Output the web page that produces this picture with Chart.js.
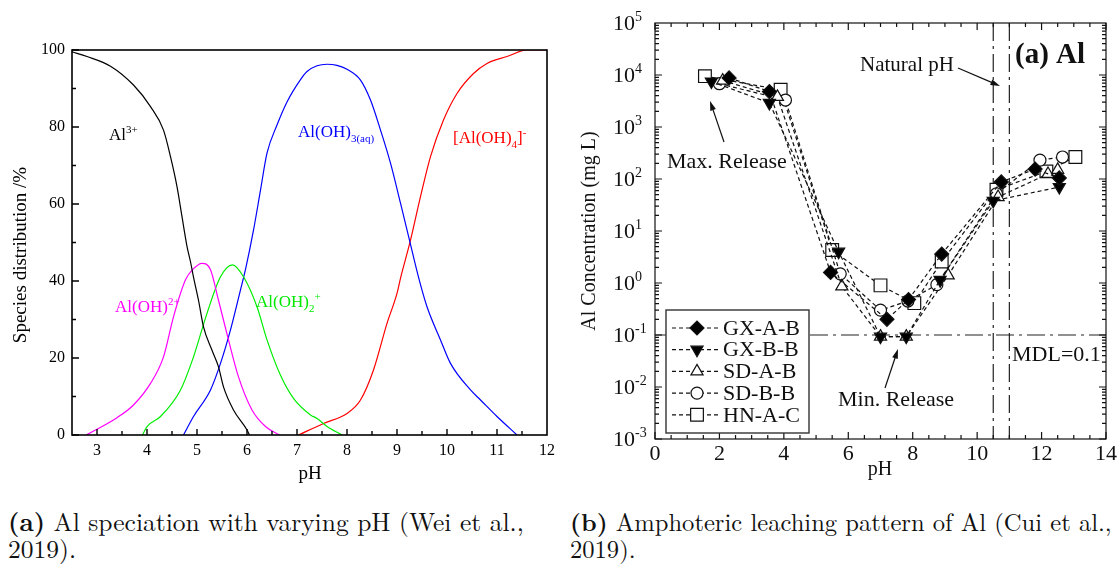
<!DOCTYPE html>
<html>
<head>
<meta charset="utf-8">
<script src="https://cdn.jsdelivr.net/npm/chart.js@4.4.0/dist/chart.umd.min.js"></script>
<style>
  html, body { margin: 0; padding: 0; background: #fff; }
  body { width: 1120px; height: 565px; position: relative; overflow: hidden; font-family: "Liberation Serif", serif; }
  #wrapA { position: absolute; left: 0; top: 0; width: 560px; height: 490px; }
  #wrapB { position: absolute; left: 565px; top: 0; width: 555px; height: 490px; filter: blur(0.55px); }
  .cap { position: absolute; font-family: "Latin Modern Roman", "Liberation Serif", serif; font-size: 20px; color: #111; white-space: nowrap; line-height: 27px; }
</style>
</head>
<body>
<div id="wrapA"><canvas id="specChart"></canvas></div>
<div id="wrapB"><canvas id="leachChart"></canvas></div>
<div class="cap" style="left:8px; top:507px;"><span class="fit" data-w="516"><b>(a)</b> Al speciation with varying pH (Wei et al.,</span><br>2019).</div>
<div class="cap" style="left:570px; top:507px;"><span class="fit" data-w="542"><b>(b)</b> Amphoteric leaching pattern of Al (Cui et al.,</span><br>2019).</div>
<script>
/* Al speciation (% of total Al) vs pH */
const al3Ph    = [2.5, 2.8, 3.27, 3.73, 4.07, 4.33, 4.47, 4.6, 4.7, 4.8, 4.87, 4.93, 5.03, 5.13, 5.3, 5.43, 5.53, 5.73, 6.0, 6.05];
const al3Pct   = [99.5, 98.3, 95.8, 90.9, 85.3, 79.2, 72.3, 64.5, 56.7, 49, 45, 41, 35, 28.1, 22, 17.7, 12.5, 6.5, 1.3, 0];
const alOHPh   = [2.79, 3.0, 3.4, 3.73, 4.07, 4.33, 4.53, 4.77, 4.93, 5.1, 5.27, 5.43, 5.63, 5.83, 6.1, 6.37, 6.65];
const alOHPct  = [0, 1.5, 4.5, 7.8, 13.4, 20.3, 30.7, 40.3, 43.2, 44.6, 42.9, 35, 24.7, 15.1, 6.5, 2.2, 0];
const alOH2Ph  = [3.91, 4.0, 4.27, 4.67, 4.93, 5.2, 5.47, 5.71, 5.93, 6.2, 6.4, 6.67, 6.93, 7.27, 7.4, 7.6, 7.9];
const alOH2Pct = [0, 2.2, 4.8, 11.7, 20.3, 31.6, 41.1, 44.2, 41.1, 33.3, 24.7, 15.5, 9.5, 5.2, 4.3, 2.2, 0];
const alOH3Ph  = [4.73, 4.93, 5.27, 5.47, 5.67, 5.87, 5.97, 6.13, 6.27, 6.4, 6.6, 6.8, 7.07, 7.2, 7.4, 7.6, 7.8, 8.0, 8.27, 8.47, 8.67, 8.87, 9.07, 9.27, 9.43, 9.6, 9.87, 10.07, 10.47, 10.67, 11.0, 11.4];
const alOH3Pct = [0, 4.8, 11.7, 18.6, 27.3, 37.7, 43, 53.2, 63.6, 73.2, 80.5, 86.5, 92.3, 94.4, 95.9, 96.3, 96.0, 95.0, 92.2, 87, 79.2, 70.6, 60.2, 49.5, 41, 33.3, 24.7, 18.6, 11.7, 9.1, 4.8, 0];
const alOH4Ph  = [7.03, 7.53, 8.0, 8.27, 8.53, 8.8, 9.0, 9.07, 9.27, 9.47, 9.67, 9.93, 10.2, 10.53, 10.8, 11.2, 11.6, 12.0];
const alOH4Pct = [0, 3, 5.6, 9.1, 16.9, 29, 36.8, 40.7, 50.6, 61.9, 72.3, 81.8, 88.7, 93.9, 96.5, 98.3, 100, 100];
const specXTicks = [3, 4, 5, 6, 7, 8, 9, 10, 11, 12];
const specYTicks = [0, 20, 40, 60, 80, 100];

/* Leached Al (mg/L) vs final pH, five samples */
const sampleNames = ['GX-A-B', 'GX-B-B', 'SD-A-B', 'SD-B-B', 'HN-A-C'];
const gxabPh = [2.3, 3.55, 5.45, 7.2, 7.87, 8.9, 10.75, 11.8, 12.55];
const gxabAl = [8800, 4800, 1.6, 0.2, 0.48, 3.6, 88, 155, 105];
const gxbbPh = [1.75, 3.55, 5.7, 7.0, 7.8, 8.85, 10.5, 12.55];
const gxbbAl = [7500, 2900, 4.0, 0.093, 0.093, 1.15, 38, 70];
const sdabPh = [2.1, 3.8, 5.8, 7.0, 7.8, 9.1, 10.65, 12.2, 12.5];
const sdabAl = [7800, 3800, 0.86, 0.093, 0.093, 1.4, 45, 125, 150];
const sdbbPh = [2.0, 4.05, 5.75, 7.0, 7.85, 8.75, 10.6, 11.95, 12.65];
const sdbbAl = [6800, 3300, 1.5, 0.3, 0.45, 0.93, 52, 230, 265];
const hnacPh = [1.55, 3.9, 5.5, 7.0, 8.05, 8.9, 10.6, 12.15, 13.05];
const hnacAl = [9500, 5200, 4.3, 0.9, 0.41, 2.6, 62, 140, 265];
const leachXTicks = [0, 2, 4, 6, 8, 10, 12, 14];
const leachExps = [-3, -2, -1, 0, 1, 2, 3, 4, 5];
const mdl = 0.1;
const naturalPh = [10.5, 11.0];

const SERIF = '"Liberation Serif", serif';
const pts = (xs, ys) => xs.map((x, i) => ({ x, y: ys[i] }));

// text with sub/superscript runs: parts = [[text, ''|'sub'|'sup'], ...]
function richText(ctx, parts, x, y, size, align, weight) {
  const w = weight || '';
  const fontFor = m => `${w} ${m ? Math.round(size * 0.62) : size}px ${SERIF}`.trim();
  const widths = parts.map(([t, m]) => { ctx.font = fontFor(m); return ctx.measureText(t).width; });
  const total = widths.reduce((a, b) => a + b, 0);
  let cx = align === 'center' ? x - total / 2 : align === 'right' ? x - total : x;
  ctx.textAlign = 'left';
  ctx.textBaseline = 'alphabetic';
  parts.forEach(([t, m], i) => {
    ctx.font = fontFor(m);
    const dy = m === 'sup' ? -size * 0.42 : m === 'sub' ? size * 0.28 : 0;
    ctx.fillText(t, cx, y + dy);
    cx += widths[i];
  });
}

function arrow(ctx, x1, y1, x2, y2) {
  const ang = Math.atan2(y2 - y1, x2 - x1);
  ctx.beginPath();
  ctx.moveTo(x1, y1);
  ctx.lineTo(x2 - 6 * Math.cos(ang), y2 - 6 * Math.sin(ang));
  ctx.stroke();
  ctx.beginPath();
  ctx.moveTo(x2, y2);
  ctx.lineTo(x2 - 10 * Math.cos(ang - 0.3), y2 - 10 * Math.sin(ang - 0.3));
  ctx.lineTo(x2 - 10 * Math.cos(ang + 0.3), y2 - 10 * Math.sin(ang + 0.3));
  ctx.closePath();
  ctx.fill();
}

/* frame, inward ticks, labels for the speciation plot */
const speciationAxes = {
  id: 'speciationAxes',
  afterDraw(chart) {
    const { ctx, chartArea: a, scales: { x, y } } = chart;
    ctx.save();
    ctx.strokeStyle = '#000';
    ctx.fillStyle = '#000';
    ctx.lineWidth = 1.6;
    ctx.strokeRect(a.left, a.top, a.right - a.left, a.bottom - a.top);

    ctx.lineWidth = 1.4;
    ctx.beginPath();
    for (let v = 0; v <= 100; v += 10) {
      const py = y.getPixelForValue(v);
      ctx.moveTo(a.left, py);
      ctx.lineTo(a.left + (v % 20 === 0 ? 7 : 4), py);
    }
    for (let v = 3; v <= 11.5; v += 0.5) {
      const px = x.getPixelForValue(v);
      ctx.moveTo(px, a.bottom);
      ctx.lineTo(px, a.bottom - (v % 1 === 0 ? 6 : 4));
    }
    ctx.stroke();

    ctx.font = `16px ${SERIF}`;
    ctx.textAlign = 'right';
    ctx.textBaseline = 'middle';
    specYTicks.forEach(v => ctx.fillText(String(v), a.left - 7, y.getPixelForValue(v)));
    ctx.textAlign = 'center';
    specXTicks.forEach(v => ctx.fillText(String(v), x.getPixelForValue(v), a.bottom + 16));

    ctx.font = `19px ${SERIF}`;
    ctx.fillText('pH', 310, 474);
    ctx.save();
    ctx.translate(21, 255);
    ctx.rotate(-Math.PI / 2);
    ctx.fillText('Species distribution /%', 0, 0);
    ctx.restore();

    ctx.fillStyle = '#000';
    richText(ctx, [['Al', ''], ['3+', 'sup']], 109, 140, 17);
    ctx.fillStyle = '#0000ff';
    richText(ctx, [['Al(OH)', ''], ['3(aq)', 'sub']], 298, 137, 17);
    ctx.fillStyle = '#ff0000';
    richText(ctx, [['[Al(OH)', ''], ['4', 'sub'], [']', ''], ['-', 'sup']], 453, 143, 17);
    ctx.fillStyle = '#ff00ff';
    richText(ctx, [['Al(OH)', ''], ['2+', 'sup']], 115, 312, 17);
    ctx.fillStyle = '#00e800';
    richText(ctx, [['Al(OH)', ''], ['2', 'sub'], ['+', 'sup']], 256, 307, 17);
    ctx.restore();
  }
};

new Chart(document.getElementById('specChart'), {
  type: 'line',
  data: {
    datasets: [
      { label: 'Al3+', data: pts(al3Ph, al3Pct), borderColor: '#000000' },
      { label: 'Al(OH)2+', data: pts(alOHPh, alOHPct), borderColor: '#ff00ff' },
      { label: 'Al(OH)2+', data: pts(alOH2Ph, alOH2Pct), borderColor: '#00ee00' },
      { label: 'Al(OH)3(aq)', data: pts(alOH3Ph, alOH3Pct), borderColor: '#0000ff' },
      { label: '[Al(OH)4]-', data: pts(alOH4Ph, alOH4Pct), borderColor: '#ff0000' }
    ].map(d => Object.assign(d, { borderWidth: 1.2, pointRadius: 0, cubicInterpolationMode: 'monotone', fill: false }))
  },
  options: {
    responsive: true,
    maintainAspectRatio: false,
    animation: false,
    events: [],
    layout: { padding: { left: 72, top: 50, right: 13, bottom: 55 } },
    scales: {
      x: { type: 'linear', min: 2.5, max: 12, display: false },
      y: { type: 'linear', min: 0, max: 100, display: false }
    },
    plugins: { legend: { display: false }, tooltip: { enabled: false } }
  },
  plugins: [speciationAxes]
});

/* reference lines under the data, frame/labels/legend on top */
const OX = 565;
const leachDecor = {
  id: 'leachDecor',
  beforeDatasetsDraw(chart) {
    const { ctx, chartArea: a, scales: { x, y } } = chart;
    ctx.save();
    ctx.strokeStyle = '#222';
    ctx.lineWidth = 1.2;
    ctx.setLineDash([18, 5, 3, 5]);
    ctx.beginPath();
    const my = y.getPixelForValue(mdl);
    ctx.moveTo(a.left, my); ctx.lineTo(a.right, my);
    naturalPh.forEach(p => {
      const px = x.getPixelForValue(p);
      ctx.moveTo(px, a.top); ctx.lineTo(px, a.bottom);
    });
    ctx.stroke();
    ctx.restore();
  },
  afterDraw(chart) {
    const { ctx, chartArea: a, scales: { x, y } } = chart;
    ctx.save();
    ctx.strokeStyle = '#111';
    ctx.fillStyle = '#111';
    ctx.lineWidth = 1.2;
    ctx.strokeRect(a.left, a.top, a.right - a.left, a.bottom - a.top);

    ctx.beginPath();
    for (let v = 0; v <= 14; v += 0.5) {
      const px = x.getPixelForValue(v);
      const len = v % 2 === 0 ? 7 : 4;
      ctx.moveTo(px, a.bottom); ctx.lineTo(px, a.bottom - len);
      ctx.moveTo(px, a.top); ctx.lineTo(px, a.top + len);
    }
    for (let e = -3; e <= 4; e++) {
      for (let m = 1; m <= 9; m++) {
        const py = y.getPixelForValue(m * Math.pow(10, e));
        const len = m === 1 ? 7 : 4;
        ctx.moveTo(a.left, py); ctx.lineTo(a.left + len, py);
        ctx.moveTo(a.right, py); ctx.lineTo(a.right - len, py);
      }
    }
    ctx.stroke();

    // tick labels
    leachExps.forEach(e => {
      richText(ctx, [['10', ''], [String(e), 'sup']], 613 - OX, y.getPixelForValue(Math.pow(10, e)) + 7, 22);
    });
    ctx.font = `22px ${SERIF}`;
    ctx.textAlign = 'center';
    ctx.textBaseline = 'middle';
    leachXTicks.forEach(v => ctx.fillText(String(v), x.getPixelForValue(v), a.bottom + 15));

    ctx.font = `20px ${SERIF}`;
    ctx.fillText('pH', 880 - OX, 470);
    ctx.save();
    ctx.translate(590 - OX, 231);
    ctx.rotate(-Math.PI / 2);
    ctx.fillText('Al Concentration (mg L)', 0, 0);
    ctx.restore();

    // annotations
    ctx.font = `bold 29px ${SERIF}`;
    ctx.textAlign = 'left';
    ctx.fillText('(a) Al', 1015 - OX, 56);
    ctx.font = `21px ${SERIF}`;
    ctx.fillText('Natural pH', 860 - OX, 65);
    ctx.font = `22px ${SERIF}`;
    ctx.fillText('Max. Release', 667 - OX, 162);
    ctx.fillText('Min. Release', 838 - OX, 400);
    ctx.fillText('MDL=0.1', 1012 - OX, 355);
    ctx.lineWidth = 1.2;
    arrow(ctx, 958 - OX, 68, 1000 - OX, 86);
    arrow(ctx, 724 - OX, 142, 710 - OX, 101);
    arrow(ctx, 885 - OX, 388, 898 - OX, 349);

    // legend box
    const lx = 666 - OX, ly = 310, lw = 143, lh = 123;
    ctx.fillStyle = '#fff';
    ctx.fillRect(lx, ly, lw, lh);
    ctx.strokeStyle = '#333';
    ctx.lineWidth = 1.4;
    ctx.strokeRect(lx, ly, lw, lh);
    chart.data.datasets.forEach((ds, i) => {
      const ry = 328 + i * 21.7;
      ctx.strokeStyle = '#111';
      ctx.lineWidth = 1.2;
      ctx.setLineDash([4, 3]);
      ctx.beginPath();
      ctx.moveTo(lx + 6, ry); ctx.lineTo(lx + 52, ry);
      ctx.stroke();
      ctx.setLineDash([]);
      ctx.fillStyle = ds.pointBackgroundColor;
      ctx.strokeStyle = '#111';
      Chart.helpers.drawPoint(ctx, {
        pointStyle: ds.pointStyle, rotation: ds.pointRotation || 0,
        radius: ds.pointRadius, borderWidth: 1.2
      }, lx + 31, ry);
      ctx.fillStyle = '#111';
      ctx.font = `22px ${SERIF}`;
      ctx.textAlign = 'left';
      ctx.textBaseline = 'middle';
      ctx.fillText(ds.label, 723 - OX, ry + 1);
    });
    ctx.restore();
  }
};

const markerStyles = [
  { pointStyle: 'rectRot', pointRadius: 7, pointBackgroundColor: '#000' },
  { pointStyle: 'triangle', pointRotation: 180, pointRadius: 7, pointBackgroundColor: '#000' },
  { pointStyle: 'triangle', pointRadius: 7, pointBackgroundColor: '#fff' },
  { pointStyle: 'circle', pointRadius: 6, pointBackgroundColor: '#fff' },
  { pointStyle: 'rect', pointRadius: 9, pointBackgroundColor: '#fff' }
];
const sampleData = [pts(gxabPh, gxabAl), pts(gxbbPh, gxbbAl), pts(sdabPh, sdabAl), pts(sdbbPh, sdbbAl), pts(hnacPh, hnacAl)];

new Chart(document.getElementById('leachChart'), {
  type: 'line',
  data: {
    datasets: sampleNames.map((name, i) => Object.assign({
      label: name,
      data: sampleData[i],
      borderColor: '#111',
      borderWidth: 1.2,
      borderDash: [4, 3],
      pointBorderColor: '#111',
      pointBorderWidth: 1.2,
      tension: 0,
      fill: false,
      clip: false
    }, markerStyles[i]))
  },
  options: {
    responsive: true,
    maintainAspectRatio: false,
    animation: false,
    events: [],
    layout: { padding: { left: 90, top: 23, right: 14, bottom: 51 } },
    scales: {
      x: { type: 'linear', min: 0, max: 14, display: false },
      y: { type: 'logarithmic', min: 1e-3, max: 1e5, display: false }
    },
    plugins: { legend: { display: false }, tooltip: { enabled: false } }
  },
  plugins: [leachDecor]
});

// scale each caption so its first line spans the set width
document.querySelectorAll('.fit').forEach(el => {
  const target = +el.dataset.w;
  const w = el.getBoundingClientRect().width;
  el.parentElement.style.fontSize = (20 * target / w).toFixed(2) + 'px';
});
</script>
</body>
</html>
